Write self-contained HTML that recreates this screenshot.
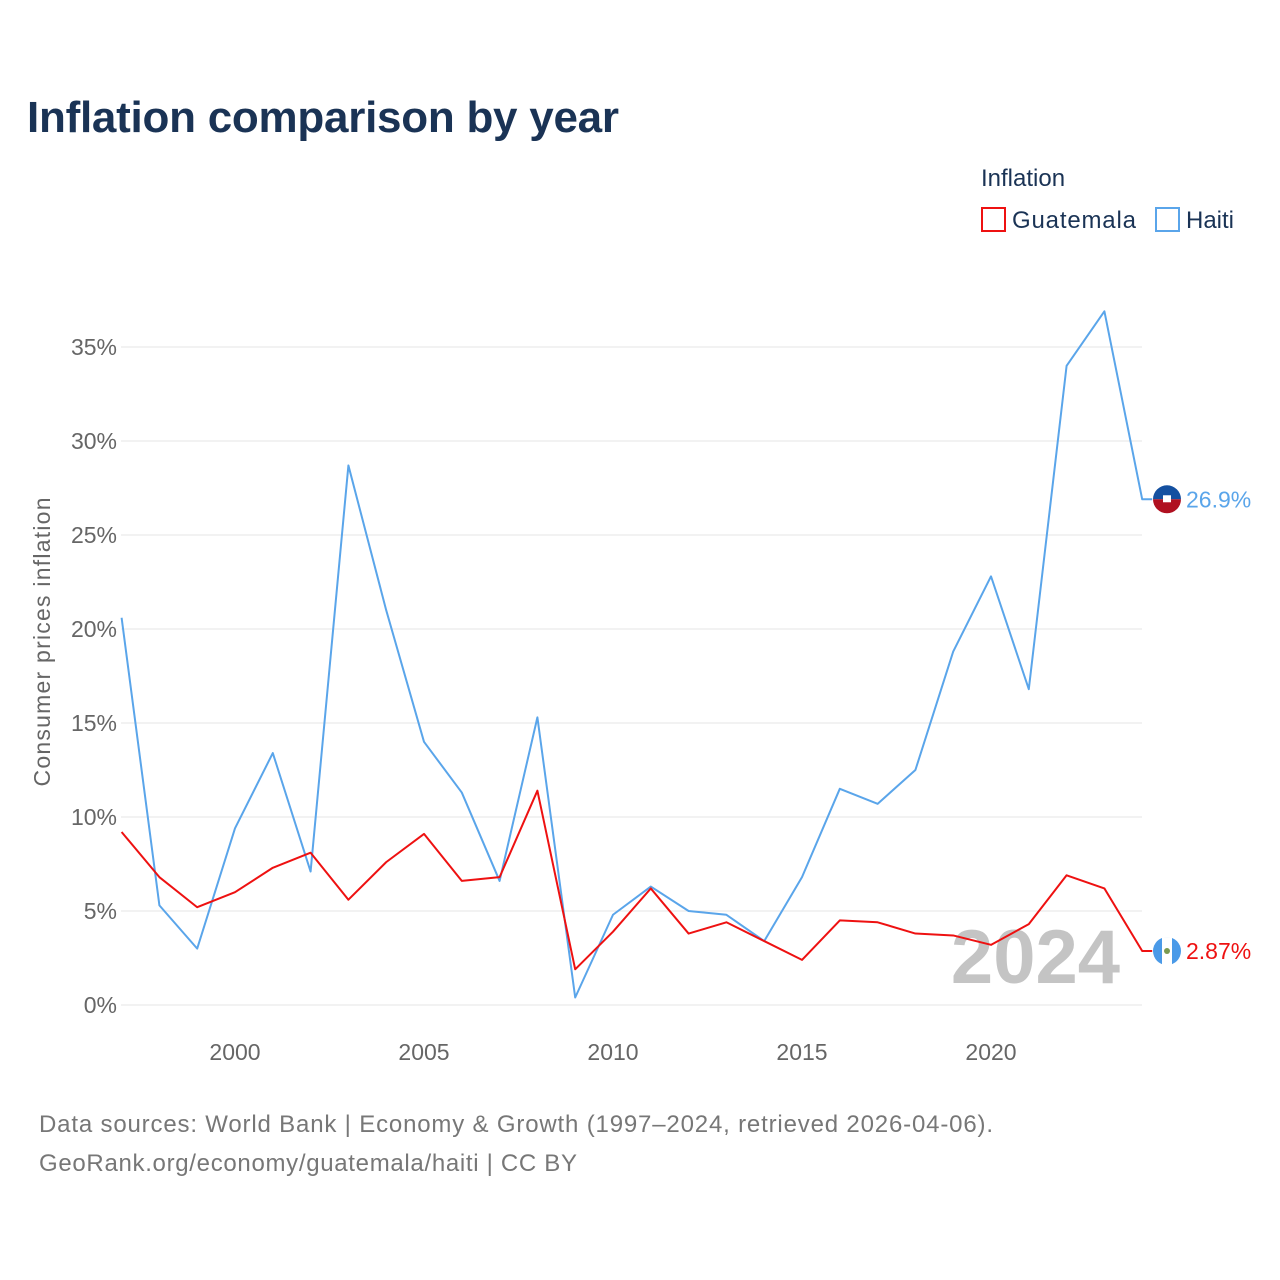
<!DOCTYPE html>
<html><head><meta charset="utf-8">
<style>
body{margin:0;background:#fff;font-family:"Liberation Sans",sans-serif;}
#wrap{position:relative;width:1280px;height:1280px;overflow:hidden;}
</style></head>
<body>
<div id="wrap">
<svg id="chart" width="1280" height="1280" xmlns="http://www.w3.org/2000/svg">
<defs>
<clipPath id="c1"><circle cx="1167" cy="0" r="14"/></clipPath>
</defs>
<text x="27" y="132" font-size="44" font-weight="bold" fill="#1a3355" textLength="592">Inflation comparison by year</text>
<text x="981" y="186" font-size="24" fill="#1a3355">Inflation</text>
<g><rect x="982" y="208" width="23" height="23" fill="none" stroke="#ee1111" stroke-width="2"/><text x="1012" y="228" font-size="24" fill="#1a3355" textLength="124">Guatemala</text></g>
<g><rect x="1156" y="208" width="23" height="23" fill="none" stroke="#5aa5ea" stroke-width="2"/><text x="1186" y="228" font-size="24" fill="#1a3355">Haiti</text></g>
<g id="grid"></g>
<g id="xt"></g>
<text x="1120" y="983" font-size="76" font-weight="bold" fill="#c4c4c4" text-anchor="end">2024</text>
<text transform="translate(50,642) rotate(-90)" font-size="23" fill="#666" text-anchor="middle" textLength="289">Consumer prices inflation</text>
<g id="series"></g>
<text x="39" y="1132" font-size="24" fill="#777" textLength="954">Data sources: World Bank | Economy &amp; Growth (1997–2024, retrieved 2026-04-06).</text>
<text x="39" y="1171" font-size="24" fill="#777" textLength="538">GeoRank.org/economy/guatemala/haiti | CC BY</text>
</svg>
</div>
<script>
const years=[1997,1998,1999,2000,2001,2002,2003,2004,2005,2006,2007,2008,2009,2010,2011,2012,2013,2014,2015,2016,2017,2018,2019,2020,2021,2022,2023,2024];
const haiti=[20.6,5.3,3.0,9.4,13.4,7.1,28.7,21.0,14.0,11.3,6.6,15.3,0.4,4.8,6.3,5.0,4.8,3.4,6.8,11.5,10.7,12.5,18.8,22.8,16.8,34.0,36.9,26.9];
const guatemala=[9.2,6.8,5.2,6.0,7.3,8.1,5.6,7.6,9.1,6.6,6.8,11.4,1.9,3.9,6.2,3.8,4.4,3.4,2.4,4.5,4.4,3.8,3.7,3.2,4.3,6.9,6.2,2.87];
const yTicks=[0,5,10,15,20,25,30,35];
const xTicks=[2000,2005,2010,2015,2020];
const NS="http://www.w3.org/2000/svg";
const X=y=>235+(y-2000)*37.8;
const Y=v=>1005-v*18.8;
function mk(tag,attrs,parent){const e=document.createElementNS(NS,tag);for(const k in attrs)e.setAttribute(k,attrs[k]);parent.appendChild(e);return e;}
const grid=document.getElementById('grid');
yTicks.forEach(t=>{
 const l=mk('line',{x1:121,x2:1142,y1:Y(t),y2:Y(t),stroke:'#e6e6e6','stroke-width':1},grid);
 
 
 const tx=mk('text',{x:117,y:Y(t)+8,'font-size':23,fill:'#666','text-anchor':'end'},grid);
 tx.textContent=t+'%';
 
 
});
const xt=document.getElementById('xt');
xTicks.forEach(t=>{
 const tx=mk('text',{x:X(t),y:1060,'font-size':23,fill:'#666','text-anchor':'middle'},xt);
 tx.textContent=t;
 
 
});
const s=document.getElementById('series');
function line(vals,color,name,label,flag){
 let d=vals.map((v,i)=>(i?'L':'M')+X(years[i])+','+Y(v)).join(' ');
 const last=vals[vals.length-1];
 d+=' L'+(X(years[years.length-1])+10)+','+Y(last);
 const p=mk('path',{d:d,fill:'none',stroke:color,'stroke-width':2,'stroke-linejoin':'round'},s);
 
 
 const cy=Y(last);
 const g=mk('g',{},s);
 
 
 if(flag==='ht'){
  mk('path',{d:`M1153,${cy} A14,14 0 0 1 1181,${cy} Z`,fill:'#1450a0'},g);
  mk('path',{d:`M1153,${cy} A14,14 0 0 0 1181,${cy} Z`,fill:'#b01020'},g);
  mk('rect',{x:1163,y:cy-4,width:8,height:7,fill:'#fff'},g);
 }else{
  mk('circle',{cx:1167,cy:cy,r:14,fill:'#4a9ae8'},g);
  mk('rect',{x:1162,y:cy-14,width:10,height:28,fill:'#fff'},g);
  mk('circle',{cx:1167,cy:cy,r:3,fill:'#7a9a50'},g);
 }
 const t=mk('text',{x:1186,y:cy+8,'font-size':23,fill:color},s);
 t.textContent=label;
 
 
}
line(haiti,'#5aa5ea','haiti','26.9%','ht');
line(guatemala,'#ee1111','guatemala','2.87%','gt');
</script>
</body></html>
